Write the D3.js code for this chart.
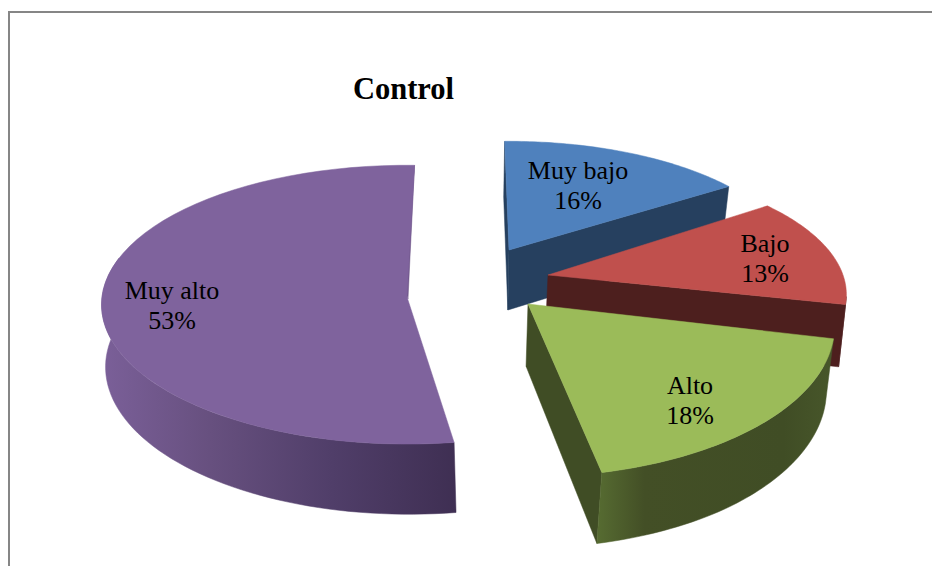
<!DOCTYPE html>
<html><head><meta charset="utf-8">
<style>html,body{margin:0;padding:0;background:#fff}svg{display:block}text{font-family:"Liberation Serif","Times New Roman",serif;fill:#000}</style>
<script src="https://cdnjs.cloudflare.com/ajax/libs/d3/7.8.5/d3.min.js"></script>
</head><body><svg id="c" width="932" height="566"></svg>
<script>
const title = "Control";
const categories = ["Muy bajo", "Bajo", "Alto", "Muy alto"];
const values = [16, 13, 18, 53];
const topColors = ["#4f81bd", "#c0504d", "#9bbb59", "#7f639d"];
const wallColors = ["#26405f", "#4d1f1e", "#404d25", "#6d5487"];

// layout of the exploded, perspective slices
const geometry = [
  {ax:509, ay:250, rx:285, ry:125, p:.15, r0:-1,   r1:-1,   lx:578, ly:179},
  {ax:548, ay:275, rx:295, ry:128, p:.15, r0:-3.6, r1:-1.5, lx:765, ly:252},
  {ax:528, ay:304, rx:303, ry:147, p:.15, r0:-1.2, r1:-1.2, lx:690, ly:394},
  {ax:407, ay:297, rx:305, ry:139, p:.055,r0:2.4,  r1:1.5,  lx:172, ly:299}
];

const svg = d3.select("#c");
const defs = svg.append("defs");
const g1 = defs.append("linearGradient").attr("id","wallPurple").attr("gradientUnits","userSpaceOnUse")
  .attr("x1",105).attr("x2",455).attr("y1",0).attr("y2",0);
[[0,"#7a5f98"],[.3,"#67507f"],[.65,"#503e69"],[1,"#3f2f53"]].forEach(s=>g1.append("stop").attr("offset",s[0]).attr("stop-color",s[1]));
const g2 = defs.append("linearGradient").attr("id","wallGreen").attr("gradientUnits","userSpaceOnUse")
  .attr("x1",598).attr("x2",830).attr("y1",0).attr("y2",0);
[[0,"#566b31"],[.2,"#434f26"],[.8,"#404d25"],[1,"#47562a"]].forEach(s=>g2.append("stop").attr("offset",s[0]).attr("stop-color",s[1]));

// frame
svg.append("path").attr("d","M9,566V12H932").attr("fill","none").attr("stroke","#868686").attr("stroke-width",2);

const arcs = d3.pie().sort(null).value(d=>d).startAngle(0).endAngle(2*Math.PI)(values);
const depth = d3.scaleLinear().domain([250,300,440,472]).range([60,62,70,71]);
const shift = d3.scaleLinear().domain([102,453,505,603,834,845]).range([4,2,-1,-5,-8,-7]);
const line = d3.line();

function rimPoint(g,a){
  const c=Math.cos(a), s=Math.sin(a), k=1/(1+g.p*c);
  return [g.ax+g.rx*s*k, g.ay-g.ry*c*k];
}
const low = p => [p[0]+shift(p[0]), p[1]+depth(p[1])];
function arcPts(g,a0,a1){ return d3.range(0,61).map(i=>rimPoint(g,a0+(a1-a0)*i/60)); }
const poly = (pts,fill) => svg.append("path").attr("d",line(pts)+"Z").attr("fill",fill).attr("stroke",fill).attr("stroke-width",.5);

// back-to-front: purple, blue, red, green
[3,0,1,2].forEach(i=>{
  const g=geometry[i], d=arcs[i];
  const map=d3.scaleLinear().domain([d.startAngle,d.endAngle]).range([d.startAngle+g.r0*Math.PI/180,d.endAngle+g.r1*Math.PI/180]);
  const a0=map(d.startAngle), a1=map(d.endAngle);
  const apex=[g.ax,g.ay], S=rimPoint(g,a0), E=rimPoint(g,a1), pts=arcPts(g,a0,a1);
  if(i===0){
    poly([apex,low(apex),low(E),E],wallColors[i]);
    poly([S,low(S),low(apex),apex],wallColors[i]);
  } else if(i===1){
    poly([apex,low(apex),low(E),E],wallColors[i]);
    poly([E,low(E),low(rimPoint(g,a1-.06)),rimPoint(g,a1-.06)],wallColors[i]);
  } else if(i===2){
    poly([apex,low(apex),low(E),E],wallColors[i]);
    const o=arcPts(g,a0,a1);
    poly(o.concat(o.slice().reverse().map(low)),"url(#wallGreen)");
  } else {
    const end=d3.scaleLinear().domain([0,1]).range([a0,a0+115*Math.PI/180]);
    const o=d3.range(0,61).map(k=>rimPoint(g,end(k/60)));
    poly(o.concat(o.slice().reverse().map(low)),"url(#wallPurple)");
    poly([E,[g.ax-3,g.ay-12],[g.ax+1,g.ay+2],[g.ax+3,g.ay-40]],wallColors[i]);
  }
  poly([apex].concat(pts),topColors[i]);
});

// labels
categories.forEach((c,i)=>{
  const g=geometry[i];
  const t=svg.append("text").attr("text-anchor","middle").attr("font-size",26);
  t.append("tspan").attr("x",g.lx).attr("y",g.ly).text(c);
  t.append("tspan").attr("x",g.lx).attr("y",g.ly+29.5).text(d3.format("d")(values[i])+"%");
});
svg.append("text").attr("x",403.5).attr("y",99).attr("text-anchor","middle").attr("font-size",30.5).attr("font-weight","bold").text(title);
</script></body></html>
